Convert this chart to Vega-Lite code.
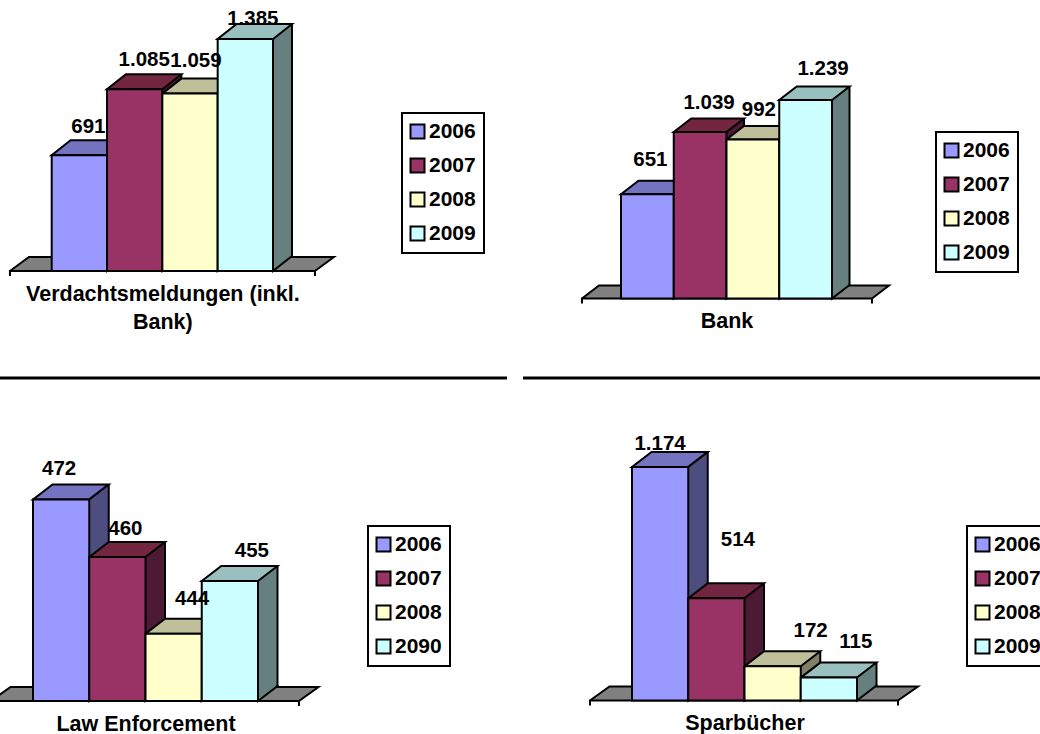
{
"$schema":"https://vega.github.io/schema/vega-lite/v6.json",
"padding":0,"background":"white","columns":2,"spacing":{"row":14,"column":16},"bounds":"flush",
"resolve":{"scale":{"fill":"independent","stroke":"independent"}},
"config":{"view":{"stroke":null},"font":"Liberation Sans","locale":{"number":{"decimal":",","thousands":".","grouping":[3],"currency":["","€"]}},
"legend":{"orient":"none","title":null,"strokeColor":"black","strokeWidth":2,"fillColor":"white","padding":8,"rowPadding":11,"symbolOffset":-3,"symbolType":"square","symbolSize":196,"symbolStrokeColor":"black","symbolStrokeWidth":2,"symbolOpacity":1,"labelFont":"Liberation Sans","labelFontWeight":"bold","labelFontSize":21,"labelColor":"black","labelOffset":1},
"axis":{"labels":false,"ticks":false,"domain":false,"grid":false,"titleFont":"Liberation Sans","titleFontWeight":"bold","titleFontSize":21.5,"titleColor":"black","titleLineHeight":28},
"text":{"font":"Liberation Sans","fontWeight":"bold","fontSize":20.5,"fill":"black"}},
"datasets":{
"verdacht":[{"year":"2006","value":691},{"year":"2007","value":1085},{"year":"2008","value":1059},{"year":"2009","value":1385}],
"bank":[{"year":"2006","value":651},{"year":"2007","value":1039},{"year":"2008","value":992},{"year":"2009","value":1239}],
"law":[{"year":"2006","value":472},{"year":"2007","value":460},{"year":"2008","value":444},{"year":"2090","value":455}],
"spar":[{"year":"2006","value":1174},{"year":"2007","value":514},{"year":"2008","value":172},{"year":"2009","value":115}]},
"concat":[
{"width":507,"height":378,"data":{"name":"verdacht"},"resolve":{"scale":{"fill":"independent"}},
"encoding":{"x":{"field":"year","type":"nominal","scale":{"range":[51.7,273],"paddingInner":0,"paddingOuter":0},"axis":{"title":["Verdachtsmeldungen (inkl.","Bank)"],"offset":-107,"titlePadding":12}},
"y":{"field":"value","type":"quantitative","axis":null,"scale":{"domain":[-638.8,1617.9],"nice":false,"zero":false}}},
"layer":[
{"transform":[{"filter":"datum.year=='2007'"}],"mark":{"type":"point","size":4,"opacity":1,"filled":true,"clip":true,"fill":"#808080","stroke":"black","strokeWidth":2,"shape":"M-152.4 0L-133.4 -14L171.6 -14L152.6 0L152.6 5L152.6 0L-152.4 0L-152.4 5L-152.4 0Z"},"encoding":{"x":{"field":"year","type":"nominal","bandPosition":1},"y":{"datum":0,"type":"quantitative"}}},
{"mark":{"type":"rule","strokeWidth":19,"xOffset":9.5,"yOffset":-15,"y2Offset":-15},"encoding":{"x":{"field":"year","type":"nominal","bandPosition":1},"y2":{"datum":0},"stroke":{"field":"year","type":"nominal","legend":null,"scale":{"range":["#4D4D80","#4D1A33","#808066","#668080"]}}}},
{"mark":{"type":"point","size":4,"opacity":1,"filled":true,"stroke":"black","strokeWidth":2,"shape":"M0 -16L0 0L19 -15L19 -16"},"encoding":{"x":{"field":"year","type":"nominal","bandPosition":1},"y":{"datum":0,"type":"quantitative"},"fill":{"field":"year","type":"nominal","legend":null,"scale":{"range":["#4D4D80","#4D1A33","#808066","#668080"]}}}},
{"mark":{"type":"rule","strokeWidth":2,"color":"black","xOffset":19,"yOffset":-15,"y2Offset":-15},"encoding":{"x":{"field":"year","type":"nominal","bandPosition":1},"y2":{"datum":0}}},
{"transform":[{"filter":"datum.year=='2009'"}],"mark":{"type":"text","xOffset":7.5,"yOffset":-20},"encoding":{"text":{"field":"value","type":"quantitative","format":",d"}}},
{"mark":{"type":"point","size":4,"opacity":1,"filled":true,"stroke":"black","strokeWidth":2,"shape":"M-27.75 0L27.75 0L46.75 -15L-8.75 -15Z"},"encoding":{"fill":{"field":"year","type":"nominal","legend":null,"scale":{"range":["#7373BF","#732640","#BFBF99","#99BFBF"]}}}},
{"mark":{"type":"rect","stroke":"black","strokeWidth":2},"encoding":{"y2":{"datum":0},"fill":{"field":"year","type":"nominal","scale":{"range":["#9999FF","#993366","#FFFFCC","#CCFFFF"]},"legend":{"legendX":402,"legendY":113}}}},
{"transform":[{"filter":"datum.year=='2006'"}],"mark":{"type":"text","xOffset":9,"yOffset":-28},"encoding":{"text":{"field":"value","type":"quantitative","format":",d"}}},
{"transform":[{"filter":"datum.year=='2007'"}],"mark":{"type":"text","xOffset":9.5,"yOffset":-29},"encoding":{"text":{"field":"value","type":"quantitative","format":",d"}}},
{"transform":[{"filter":"datum.year=='2008'"}],"mark":{"type":"text","xOffset":6,"yOffset":-33},"encoding":{"text":{"field":"value","type":"quantitative","format":",d"}}},
{"transform":[{"filter":"datum.year=='2006'"}],"mark":{"type":"rect","color":"black"},"encoding":{"x":null,"y":{"datum":-629.8,"type":"quantitative"},"y2":{"datum":-647.8}}}
]},
{"width":517,"height":378,"data":{"name":"bank"},"resolve":{"scale":{"fill":"independent"}},
"encoding":{"x":{"field":"year","type":"nominal","scale":{"range":[98,309],"paddingInner":0,"paddingOuter":0},"axis":{"title":"Bank","offset":-79.5,"titlePadding":12}},
"y":{"field":"value","type":"quantitative","axis":null,"scale":{"domain":[-496.3,1863.3],"nice":false,"zero":false}}},
"layer":[
{"transform":[{"filter":"datum.year=='2007'"}],"mark":{"type":"point","size":4,"opacity":1,"filled":true,"clip":true,"fill":"#808080","stroke":"black","strokeWidth":2,"shape":"M-144.5 0L-127.5 -13L162.5 -13L145.5 0L145.5 5L145.5 0L-144.5 0L-144.5 5L-144.5 0Z"},"encoding":{"x":{"field":"year","type":"nominal","bandPosition":1},"y":{"datum":0,"type":"quantitative"}}},
{"mark":{"type":"rule","strokeWidth":17.5,"xOffset":8.75,"yOffset":-13.5,"y2Offset":-13.5},"encoding":{"x":{"field":"year","type":"nominal","bandPosition":1},"y2":{"datum":0},"stroke":{"field":"year","type":"nominal","legend":null,"scale":{"range":["#4D4D80","#4D1A33","#808066","#668080"]}}}},
{"mark":{"type":"point","size":4,"opacity":1,"filled":true,"stroke":"black","strokeWidth":2,"shape":"M0 -14.5L0 0L17.5 -13.5L17.5 -14.5"},"encoding":{"x":{"field":"year","type":"nominal","bandPosition":1},"y":{"datum":0,"type":"quantitative"},"fill":{"field":"year","type":"nominal","legend":null,"scale":{"range":["#4D4D80","#4D1A33","#808066","#668080"]}}}},
{"mark":{"type":"rule","strokeWidth":2,"color":"black","xOffset":17.5,"yOffset":-13.5,"y2Offset":-13.5},"encoding":{"x":{"field":"year","type":"nominal","bandPosition":1},"y2":{"datum":0}}},
{"mark":{"type":"point","size":4,"opacity":1,"filled":true,"stroke":"black","strokeWidth":2,"shape":"M-26.4 0L26.4 0L43.9 -13.5L-8.9 -13.5Z"},"encoding":{"fill":{"field":"year","type":"nominal","legend":null,"scale":{"range":["#7373BF","#732640","#BFBF99","#99BFBF"]}}}},
{"mark":{"type":"rect","stroke":"black","strokeWidth":2},"encoding":{"y2":{"datum":0},"fill":{"field":"year","type":"nominal","scale":{"range":["#9999FF","#993366","#FFFFCC","#CCFFFF"]},"legend":{"legendX":413,"legendY":132}}}},
{"transform":[{"filter":"datum.year=='2006'"}],"mark":{"type":"text","xOffset":3,"yOffset":-34},"encoding":{"text":{"field":"value","type":"quantitative","format":",d"}}},
{"transform":[{"filter":"datum.year=='2007'"}],"mark":{"type":"text","xOffset":9,"yOffset":-29},"encoding":{"text":{"field":"value","type":"quantitative","format":",d"}}},
{"transform":[{"filter":"datum.year=='2008'"}],"mark":{"type":"text","xOffset":6,"yOffset":-30},"encoding":{"text":{"field":"value","type":"quantitative","format":",d"}}},
{"transform":[{"filter":"datum.year=='2009'"}],"mark":{"type":"text","xOffset":17.5,"yOffset":-31},"encoding":{"text":{"field":"value","type":"quantitative","format":",d"}}},
{"transform":[{"filter":"datum.year=='2006'"}],"mark":{"type":"rect","color":"black"},"encoding":{"x":null,"y":{"datum":-487.3,"type":"quantitative"},"y2":{"datum":-505.3}}}
]},
{"width":507,"height":342,"data":{"name":"law"},"resolve":{"scale":{"fill":"independent"}},
"encoding":{"x":{"field":"year","type":"nominal","scale":{"range":[33,258],"paddingInner":0,"paddingOuter":0},"axis":{"title":"Law Enforcement","offset":-33,"titlePadding":12}},
"y":{"field":"value","type":"quantitative","axis":null,"scale":{"domain":[423.125,494.375],"nice":false,"zero":false}}},
"layer":[
{"transform":[{"filter":"datum.year=='2007'"}],"mark":{"type":"point","size":4,"opacity":1,"filled":true,"clip":true,"fill":"#808080","stroke":"black","strokeWidth":2,"shape":"M-154.5 0L-135 -14L173 -14L153.5 0L153.5 5L153.5 0L-154.5 0L-154.5 5L-154.5 0Z"},"encoding":{"x":{"field":"year","type":"nominal","bandPosition":1},"y":{"datum":430,"type":"quantitative"}}},
{"mark":{"type":"rule","strokeWidth":19.5,"xOffset":9.75,"yOffset":-15,"y2Offset":-15},"encoding":{"x":{"field":"year","type":"nominal","bandPosition":1},"y2":{"datum":430},"stroke":{"field":"year","type":"nominal","legend":null,"scale":{"range":["#4D4D80","#4D1A33","#808066","#668080"]}}}},
{"mark":{"type":"point","size":4,"opacity":1,"filled":true,"stroke":"black","strokeWidth":2,"shape":"M0 -16L0 0L19.5 -15L19.5 -16"},"encoding":{"x":{"field":"year","type":"nominal","bandPosition":1},"y":{"datum":430,"type":"quantitative"},"fill":{"field":"year","type":"nominal","legend":null,"scale":{"range":["#4D4D80","#4D1A33","#808066","#668080"]}}}},
{"mark":{"type":"rule","strokeWidth":2,"color":"black","xOffset":19.5,"yOffset":-15,"y2Offset":-15},"encoding":{"x":{"field":"year","type":"nominal","bandPosition":1},"y2":{"datum":430}}},
{"mark":{"type":"point","size":4,"opacity":1,"filled":true,"stroke":"black","strokeWidth":2,"shape":"M-28.1 0L28.1 0L47.6 -15L-8.6 -15Z"},"encoding":{"fill":{"field":"year","type":"nominal","legend":null,"scale":{"range":["#7373BF","#732640","#BFBF99","#99BFBF"]}}}},
{"mark":{"type":"rect","stroke":"black","strokeWidth":2},"encoding":{"y2":{"datum":430},"fill":{"field":"year","type":"nominal","scale":{"range":["#9999FF","#993366","#FFFFCC","#CCFFFF"]},"legend":{"legendX":368,"legendY":134}}}},
{"transform":[{"filter":"datum.year=='2006'"}],"mark":{"type":"text","xOffset":-2,"yOffset":-30},"encoding":{"text":{"field":"value","type":"quantitative","format":",d"}}},
{"transform":[{"filter":"datum.year=='2007'"}],"mark":{"type":"text","xOffset":8,"yOffset":-28},"encoding":{"text":{"field":"value","type":"quantitative","format":",d"}}},
{"transform":[{"filter":"datum.year=='2008'"}],"mark":{"type":"text","xOffset":18.5,"yOffset":-35},"encoding":{"text":{"field":"value","type":"quantitative","format":",d"}}},
{"transform":[{"filter":"datum.year=='2090'"}],"mark":{"type":"text","xOffset":22,"yOffset":-30},"encoding":{"text":{"field":"value","type":"quantitative","format":",d"}}}
]},
{"width":517,"height":342,"data":{"name":"spar"},"resolve":{"scale":{"fill":"independent"}},
"encoding":{"x":{"field":"year","type":"nominal","scale":{"range":[109,334],"paddingInner":0,"paddingOuter":0},"axis":{"title":"Sparbücher","offset":-33.5,"titlePadding":12}},
"y":{"field":"value","type":"quantitative","axis":null,"scale":{"domain":[-168.3,1550.3],"nice":false,"zero":false}}},
"layer":[
{"transform":[{"filter":"datum.year=='2007'"}],"mark":{"type":"point","size":4,"opacity":1,"filled":true,"clip":true,"fill":"#808080","stroke":"black","strokeWidth":2,"shape":"M-154.5 0L-135 -14L173.5 -14L153.5 0L153.5 5L153.5 0L-154.5 0L-154.5 5L-154.5 0Z"},"encoding":{"x":{"field":"year","type":"nominal","bandPosition":1},"y":{"datum":0,"type":"quantitative"}}},
{"mark":{"type":"rule","strokeWidth":19.5,"xOffset":9.75,"yOffset":-15,"y2Offset":-15},"encoding":{"x":{"field":"year","type":"nominal","bandPosition":1},"y2":{"datum":0},"stroke":{"field":"year","type":"nominal","legend":null,"scale":{"range":["#4D4D80","#4D1A33","#808066","#668080"]}}}},
{"mark":{"type":"point","size":4,"opacity":1,"filled":true,"stroke":"black","strokeWidth":2,"shape":"M0 -16L0 0L19.5 -15L19.5 -16"},"encoding":{"x":{"field":"year","type":"nominal","bandPosition":1},"y":{"datum":0,"type":"quantitative"},"fill":{"field":"year","type":"nominal","legend":null,"scale":{"range":["#4D4D80","#4D1A33","#808066","#668080"]}}}},
{"mark":{"type":"rule","strokeWidth":2,"color":"black","xOffset":19.5,"yOffset":-15,"y2Offset":-15},"encoding":{"x":{"field":"year","type":"nominal","bandPosition":1},"y2":{"datum":0}}},
{"transform":[{"filter":"datum.year=='2006'"}],"mark":{"type":"text","xOffset":0,"yOffset":-23},"encoding":{"text":{"field":"value","type":"quantitative","format":",d"}}},
{"mark":{"type":"point","size":4,"opacity":1,"filled":true,"stroke":"black","strokeWidth":2,"shape":"M-28.1 0L28.1 0L47.6 -15L-8.6 -15Z"},"encoding":{"fill":{"field":"year","type":"nominal","legend":null,"scale":{"range":["#7373BF","#732640","#BFBF99","#99BFBF"]}}}},
{"mark":{"type":"rect","stroke":"black","strokeWidth":2},"encoding":{"y2":{"datum":0},"fill":{"field":"year","type":"nominal","scale":{"range":["#9999FF","#993366","#FFFFCC","#CCFFFF"]},"legend":{"legendX":444,"legendY":134}}}},
{"transform":[{"filter":"datum.year=='2007'"}],"mark":{"type":"text","xOffset":21.5,"yOffset":-58},"encoding":{"text":{"field":"value","type":"quantitative","format":",d"}}},
{"transform":[{"filter":"datum.year=='2008'"}],"mark":{"type":"text","xOffset":38,"yOffset":-35},"encoding":{"text":{"field":"value","type":"quantitative","format":",d"}}},
{"transform":[{"filter":"datum.year=='2009'"}],"mark":{"type":"text","xOffset":27,"yOffset":-36},"encoding":{"text":{"field":"value","type":"quantitative","format":",d"}}}
]}
]}
